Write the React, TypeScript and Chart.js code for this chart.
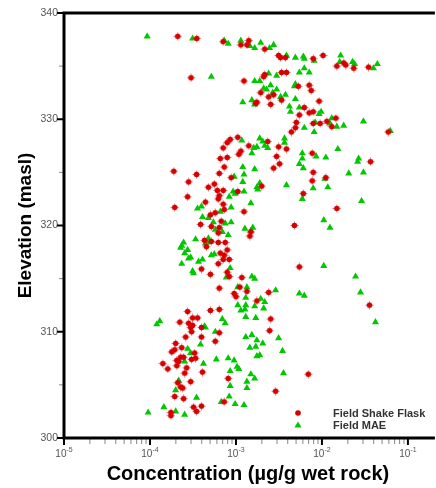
import React, { useEffect, useRef } from 'react';
import { Chart, registerables } from 'chart.js';

Chart.register(...registerables);

// ---- data (concentration in µg/g wet rock, elevation in masl) ----
const shakeFlaskConc = [
  2.1e-4, 3.5e-4, 3.0e-4, 7.1e-4, 1.14e-3, 1.41e-3, 1.34e-3, 1.24e-3, 1.75e-3, 2.16e-3,
  3.13e-3, 3.30e-3, 3.76e-3, 7.91e-3, 1.03e-2, 1.49e-2, 1.79e-2, 1.89e-2, 2.34e-2, 3.48e-2,
  2.16e-3, 2.10e-3, 3.39e-3, 3.87e-3, 1.94e-3, 2.40e-3, 3.39e-3, 2.74e-3, 5.31e-3, 7.11e-3,
  7.50e-3, 9.27e-3, 1.70e-3, 2.53e-3, 6.23e-3, 7.11e-3, 7.91e-3, 5.46e-3, 5.04e-3, 9.52e-3,
  7.91e-3, 1.45e-2, 1.14e-2, 1.30e-2, 4.91e-3, 4.41e-3, 5.91e-2, 1.05e-3, 8.56e-4, 7.91e-4,
  1.41e-3, 7.11e-4, 1.14e-3, 1.08e-3, 6.57e-4, 7.91e-4, 7.30e-4, 1.89e-4, 3.48e-4, 6.40e-4,
  8.79e-4, 2.81e-4, 4.78e-4, 5.60e-4, 6.07e-4, 7.11e-4, 1.05e-3, 6.40e-4, 6.23e-4, 2.74e-4,
  4.41e-4, 7.11e-4, 1.94e-4, 7.30e-4, 1.24e-3, 5.75e-4, 5.04e-4, 6.75e-4, 3.87e-4, 5.17e-4,
  6.40e-4, 2.34e-3, 3.13e-3, 3.87e-3, 2.97e-3, 7.70e-3, 3.67e-2, 3.21e-3, 2.74e-3, 7.91e-3,
  1.11e-2, 7.70e-3, 1.99e-3, 6.07e-3, 1.49e-2, 4.78e-3, 6.23e-4, 1.45e-3, 1.49e-3, 4.30e-4,
  5.17e-4, 4.53e-4, 6.23e-4, 7.50e-4, 7.91e-4, 6.57e-4, 7.30e-4, 7.11e-4, 8.34e-4, 6.23e-4,
  3.97e-4, 5.04e-4, 7.91e-4, 8.34e-4, 1.17e-3, 6.40e-4, 1.11e-3, 1.34e-3, 9.52e-4, 1.00e-3,
  1.75e-3, 5.04e-4, 6.40e-4, 2.74e-4, 3.13e-4, 3.57e-4, 2.22e-4, 2.81e-4, 3.13e-4, 3.97e-4,
  5.46e-3, 2.40e-3, 3.57e-2, 2.53e-3, 2.97e-4, 3.04e-4, 6.40e-4, 3.97e-4, 5.75e-4, 1.99e-4,
  2.60e-4, 2.34e-4, 1.94e-4, 1.79e-4, 3.30e-4, 2.27e-4, 2.46e-4, 2.05e-4, 2.16e-4, 3.04e-4,
  3.39e-4, 2.05e-4, 2.67e-4, 1.41e-4, 1.61e-4, 4.08e-4, 2.53e-4, 8.12e-4, 2.10e-4, 2.27e-4,
  2.40e-4, 2.97e-4, 1.94e-4, 2.46e-4, 7.30e-4, 3.21e-4, 3.97e-4, 3.48e-4, 1.75e-4, 1.75e-4,
  2.46e-3, 6.93e-3, 2.89e-3,
];
const shakeFlaskElev = [
  337.8, 337.6, 333.9, 337.3, 337.0, 337.4, 337.0, 333.6, 331.6, 336.6,
  336.0, 335.8, 335.8, 335.7, 336.0, 335.0, 335.3, 335.1, 334.8, 334.9,
  334.2, 334.0, 334.4, 334.4, 332.5, 332.1, 331.8, 332.3, 333.1, 333.2,
  332.7, 331.7, 331.5, 331.4, 331.1, 330.6, 330.7, 330.4, 329.7, 329.6,
  329.6, 330.1, 329.8, 329.3, 329.2, 328.8, 328.8, 328.3, 328.1, 327.8,
  327.5, 327.3, 327.0, 326.7, 326.3, 326.4, 325.5, 325.1, 324.8, 324.9,
  324.5, 324.1, 323.6, 323.9, 323.3, 323.3, 323.2, 322.8, 322.5, 322.7,
  322.2, 322.0, 321.7, 321.5, 321.3, 321.2, 321.0, 320.4, 320.1, 319.9,
  319.8, 327.9, 327.4, 327.2, 326.5, 326.8, 326.0, 325.8, 325.4, 325.0,
  324.5, 324.2, 323.7, 323.0, 321.6, 320.0, 319.3, 319.0, 319.4, 318.6,
  318.5, 318.0, 318.4, 318.4, 317.7, 317.4, 317.2, 316.8, 316.8, 316.4,
  315.9, 315.4, 315.6, 315.2, 315.1, 314.1, 314.2, 313.8, 313.6, 313.3,
  312.9, 312.0, 312.1, 311.9, 311.3, 311.3, 310.9, 310.8, 310.6, 310.4,
  316.1, 313.7, 312.5, 311.2, 310.4, 310.0, 309.9, 309.5, 309.1, 308.9,
  309.5, 308.5, 308.3, 308.1, 308.0, 307.6, 307.6, 307.3, 307.2, 307.4,
  307.5, 306.8, 306.6, 307.0, 306.5, 306.2, 306.1, 305.6, 305.2, 304.8,
  304.7, 305.3, 303.9, 303.7, 303.4, 302.9, 303.0, 302.5, 302.4, 302.1,
  310.1, 306.0, 304.4,
];
const maeConc = [
  9.27e-5, 3.13e-4, 7.30e-4, 8.12e-4, 1.14e-3, 1.45e-3, 1.65e-3, 5.17e-4, 1.65e-3, 1.20e-3,
  1.53e-3, 1.65e-3, 1.94e-3, 2.46e-3, 2.74e-3, 3.87e-3, 4.91e-3, 6.07e-3, 6.23e-3, 8.12e-3,
  1.65e-2, 1.61e-2, 2.27e-2, 2.40e-2, 3.97e-2, 4.41e-2, 2.40e-3, 2.97e-3, 5.46e-3, 6.23e-3,
  7.11e-3, 1.89e-3, 2.10e-3, 2.53e-3, 2.97e-3, 2.27e-3, 2.67e-3, 3.30e-3, 3.76e-3, 4.91e-3,
  4.78e-3, 4.91e-3, 4.19e-3, 4.30e-3, 5.46e-3, 9.27e-3, 9.78e-3, 8.34e-3, 1.30e-2, 1.24e-2,
  1.49e-2, 1.79e-2, 3.04e-2, 6.23e-3, 8.12e-3, 6.23e-2, 1.17e-3, 1.61e-3, 1.75e-3, 1.53e-3,
  1.20e-3, 1.65e-3, 1.24e-3, 9.52e-4, 1.20e-3, 1.75e-3, 1.24e-3, 9.27e-4, 9.78e-4, 8.34e-4,
  1.49e-3, 3.97e-4, 3.57e-4, 8.79e-4, 6.57e-4, 4.08e-4, 4.78e-4, 7.50e-4, 8.79e-4, 5.46e-4,
  1.57e-3, 1.89e-3, 2.05e-3, 3.67e-3, 3.67e-3, 2.16e-3, 2.34e-3, 5.91e-3, 8.56e-3, 1.11e-2,
  1.53e-2, 2.67e-2, 2.60e-2, 5.91e-3, 5.46e-3, 6.07e-3, 2.05e-2, 3.04e-2, 1.08e-2, 1.17e-2,
  1.89e-3, 1.79e-3, 3.87e-3, 7.91e-3, 5.91e-3, 2.89e-2, 1.05e-2, 1.24e-2, 5.75e-4, 6.93e-4,
  8.12e-4, 1.27e-3, 1.49e-3, 2.46e-4, 2.34e-4, 2.27e-4, 3.39e-4, 4.78e-4, 4.65e-4, 4.41e-4,
  2.74e-4, 2.53e-4, 5.17e-4, 5.60e-4, 2.81e-4, 2.97e-4, 3.67e-4, 4.08e-4, 2.34e-4, 8.56e-4,
  3.13e-4, 3.21e-4, 7.70e-4, 1.53e-3, 1.65e-3, 1.05e-3, 1.34e-3, 1.30e-3, 1.05e-3, 1.30e-3,
  1.14e-3, 1.27e-3, 1.65e-3, 2.10e-3, 1.30e-3, 1.70e-3, 1.30e-4, 1.20e-4, 6.93e-4, 7.50e-4,
  4.30e-4, 1.05e-2, 2.46e-2, 2.81e-2, 2.89e-3, 5.46e-3, 6.23e-3, 1.94e-3, 2.16e-3, 4.19e-2,
  4.41e-4, 5.75e-4, 3.87e-4, 2.74e-4, 2.97e-4, 2.53e-4, 4.19e-4, 5.91e-4, 8.12e-4, 9.52e-4,
  1.03e-3, 1.08e-3, 8.56e-4, 1.30e-3, 1.53e-3, 1.75e-3, 2.05e-3, 1.45e-3, 1.70e-3, 1.75e-3,
  1.89e-3, 1.49e-3, 1.65e-3, 2.16e-4, 1.99e-4, 1.34e-3, 1.34e-3, 8.56e-4, 3.48e-4, 8.34e-4,
  6.75e-4, 9.78e-4, 1.24e-3, 1.45e-4, 1.99e-4, 9.52e-5, 2.53e-4, 3.13e-3, 3.48e-3, 3.57e-3,
];
const maeElev = [
  337.8, 337.6, 337.4, 337.1, 337.4, 336.9, 336.7, 334.0, 333.6, 331.6,
  331.8, 331.4, 337.2, 336.7, 337.0, 336.0, 335.8, 335.9, 335.7, 335.5,
  336.0, 335.4, 335.4, 335.2, 334.8, 335.2, 334.3, 334.1, 334.4, 334.8,
  334.4, 333.6, 332.9, 333.2, 332.8, 332.8, 332.5, 332.1, 332.3, 333.3,
  333.1, 331.9, 331.2, 330.7, 331.1, 330.5, 330.7, 329.7, 330.1, 329.6,
  329.3, 329.4, 329.8, 329.2, 328.8, 328.9, 328.0, 327.3, 327.4, 326.8,
  325.5, 325.3, 324.8, 324.6, 324.1, 323.6, 323.2, 323.2, 323.0, 322.7,
  322.1, 321.8, 321.6, 321.7, 321.3, 320.8, 320.7, 320.2, 320.3, 320.3,
  319.8, 328.2, 327.9, 328.2, 327.8, 327.5, 327.3, 326.8, 326.5, 326.4,
  327.2, 326.3, 326.0, 326.3, 325.8, 325.4, 324.9, 325.0, 324.4, 323.6,
  324.0, 323.4, 323.8, 323.5, 322.5, 322.3, 320.5, 319.8, 319.6, 319.4,
  319.1, 319.7, 319.5, 318.4, 318.1, 317.9, 318.7, 318.8, 318.4, 318.3,
  317.7, 317.4, 317.2, 317.3, 316.9, 317.0, 316.6, 316.8, 316.4, 316.0,
  315.7, 315.5, 315.1, 315.2, 315.0, 314.2, 314.2, 313.2, 312.5, 312.5,
  312.0, 312.1, 312.4, 312.2, 311.4, 311.3, 311.0, 310.7, 311.2, 310.8,
  310.5, 316.2, 315.2, 313.7, 313.9, 313.6, 313.4, 313.1, 312.8, 310.9,
  310.4, 310.0, 308.8, 308.4, 308.0, 307.2, 307.0, 307.4, 307.5, 307.3,
  306.7, 306.5, 306.3, 309.5, 309.7, 309.2, 308.9, 308.5, 308.6, 307.7,
  307.8, 306.0, 305.6, 305.4, 304.5, 305.3, 304.7, 304.9, 303.8, 303.9,
  303.4, 303.2, 303.1, 302.9, 302.5, 302.4, 302.2, 309.4, 308.2, 306.1,
];

const seriesLabels = ['Field Shake Flask', 'Field MAE'];
const xDecadeExponents = [-5, -4, -3, -2, -1];
const xMin = 1e-5;
const xMax = 0.19;
const yMin = 300;
const yMax = 340;
const yMajorStep = 10;
const yMinorStep = 5;
const xTitle = 'Concentration (µg/g wet rock)';
const yTitle = 'Elevation (masl)';

const RED = 'rgb(214,0,0)';
const GREEN = 'rgb(0,200,0)';

// red marker: dot with tiny error-bar whiskers
function makeRedMarker(): HTMLCanvasElement {
  const c = document.createElement('canvas');
  c.width = 9;
  c.height = 9;
  const g = c.getContext('2d')!;
  g.fillStyle = RED;
  g.beginPath();
  g.arc(4.5, 4.5, 2.8, 0, Math.PI * 2);
  g.fill();
  g.strokeStyle = 'rgba(214,0,0,0.55)';
  g.lineWidth = 1;
  g.beginPath();
  g.moveTo(0.5, 4.5); g.lineTo(8.5, 4.5);
  g.moveTo(4.5, 0.5); g.lineTo(4.5, 8.5);
  g.stroke();
  return c;
}

function triPath(ctx: CanvasRenderingContext2D, x: number, y: number, r: number) {
  const a = (2 * Math.PI) / 3;
  ctx.beginPath();
  ctx.moveTo(x, y - r);
  ctx.lineTo(x + Math.sin(a) * r, y - Math.cos(a) * r);
  ctx.lineTo(x + Math.sin(2 * a) * r, y - Math.cos(2 * a) * r);
  ctx.closePath();
}

const decorPlugin = {
  id: 'decor',
  beforeDatasetsDraw(chart: any) {
    const { ctx, chartArea } = chart;
    const { left, right, top, bottom } = chartArea;
    const xs = chart.scales.x;
    const ys = chart.scales.y;
    ctx.save();
    for (let v = yMin; v <= yMax; v += yMinorStep) {
      const py = ys.getPixelForValue(v);
      const major = v % yMajorStep === 0;
      ctx.beginPath();
      ctx.strokeStyle = major ? '#000' : '#888';
      ctx.lineWidth = major ? 2 : 1;
      ctx.moveTo(left - (major ? 7 : 5), py);
      ctx.lineTo(left, py);
      ctx.stroke();
    }
    xDecadeExponents.forEach((e) => {
      for (let m = 1; m <= 9; m++) {
        const v = m * Math.pow(10, e);
        if (v > xMax) break;
        const px = xs.getPixelForValue(v);
        const major = m === 1;
        ctx.beginPath();
        ctx.strokeStyle = major ? '#000' : '#888';
        ctx.lineWidth = major ? 2 : 1;
        ctx.moveTo(px, bottom);
        ctx.lineTo(px, bottom + (major ? 7 : 6));
        ctx.stroke();
      }
    });
    ctx.strokeStyle = '#000';
    ctx.lineWidth = 3;
    ctx.beginPath();
    ctx.moveTo(right + 3, top);
    ctx.lineTo(left, top);
    ctx.lineTo(left, bottom);
    ctx.lineTo(right + 3, bottom);
    ctx.stroke();
    ctx.restore();
  },
  afterDraw(chart: any) {
    const { ctx, chartArea } = chart;
    const { left, right, top, bottom } = chartArea;
    const xs = chart.scales.x;
    ctx.save();
    ctx.fillStyle = '#555';
    ctx.textBaseline = 'alphabetic';
    ctx.textAlign = 'left';
    xDecadeExponents.forEach((e) => {
      const px = xs.getPixelForValue(Math.pow(10, e));
      ctx.font = '10px Arial';
      const wb = ctx.measureText('10').width;
      ctx.font = '7px Arial';
      const sup = String(e);
      const we = ctx.measureText(sup).width;
      const x0 = px - (wb + we) / 2;
      ctx.font = '10px Arial';
      ctx.fillText('10', x0, 457);
      ctx.font = '7px Arial';
      ctx.fillText(sup, x0 + wb, 452);
    });
    ctx.fillStyle = '#000';
    ctx.font = 'bold 20px Arial';
    ctx.textAlign = 'center';
    ctx.fillText(xTitle, (left + right) / 2, 480);
    ctx.save();
    ctx.translate(31, (top + bottom) / 2);
    ctx.rotate(-Math.PI / 2);
    ctx.font = 'bold 19px Arial';
    ctx.fillText(yTitle, 0, 0);
    ctx.restore();
    const legendRows = [413, 425.5];
    ctx.font = 'bold 11px Arial';
    ctx.textAlign = 'left';
    ctx.textBaseline = 'middle';
    legendRows.forEach((ly, i) => {
      if (i === 0) {
        ctx.fillStyle = RED;
        ctx.beginPath();
        ctx.arc(298, ly, 2.8, 0, Math.PI * 2);
        ctx.fill();
      } else {
        ctx.fillStyle = GREEN;
        triPath(ctx, 298, ly, 4.1);
        ctx.fill();
      }
      ctx.fillStyle = '#333';
      ctx.fillText(seriesLabels[i], 333, ly + 0.5);
    });
    ctx.restore();
  },
};

export default function App() {
  const canvasRef = useRef<HTMLCanvasElement | null>(null);

  useEffect(() => {
    if (!canvasRef.current) return;
    const redMarker = makeRedMarker();
    const chart = new Chart(canvasRef.current, {
      type: 'scatter',
      data: {
        datasets: [
          {
            label: seriesLabels[0],
            data: shakeFlaskConc.map((c, i) => ({ x: c, y: shakeFlaskElev[i] })),
            pointStyle: redMarker,
            pointRadius: 3,
            pointHoverRadius: 3,
            backgroundColor: RED,
            borderColor: RED,
            borderWidth: 0,
          },
          {
            label: seriesLabels[1],
            data: maeConc.map((c, i) => ({ x: c, y: maeElev[i] })),
            pointStyle: 'triangle',
            pointRadius: 4.1,
            pointHoverRadius: 4.1,
            backgroundColor: GREEN,
            borderColor: GREEN,
            borderWidth: 0,
          },
        ],
      },
      options: {
        responsive: false,
        animation: false,
        layout: { padding: { top: 13, left: 0, right: 0, bottom: 0 } },
        plugins: {
          legend: { display: false },
          tooltip: { enabled: false },
        },
        scales: {
          x: {
            type: 'logarithmic',
            min: xMin,
            max: xMax,
            grid: { display: false, drawTicks: false },
            border: { display: false },
            ticks: { display: false },
            afterFit: (s: any) => {
              s.height = 50;
            },
          },
          y: {
            type: 'linear',
            min: yMin,
            max: yMax,
            grid: { display: false, drawTicks: false },
            border: { display: false },
            ticks: {
              stepSize: yMajorStep,
              padding: 6,
              color: '#555',
              font: { family: 'Arial', size: 10.5 },
            },
            afterFit: (s: any) => {
              s.width = 64;
            },
          },
        },
      },
      plugins: [decorPlugin],
    } as any);
    return () => chart.destroy();
  }, []);

  return (
    <div style={{ position: 'absolute', left: 0, top: 0, width: 436, height: 488, background: '#fff' }}>
      <canvas ref={canvasRef} width={436} height={488} style={{ display: 'block' }} />
    </div>
  );
}
